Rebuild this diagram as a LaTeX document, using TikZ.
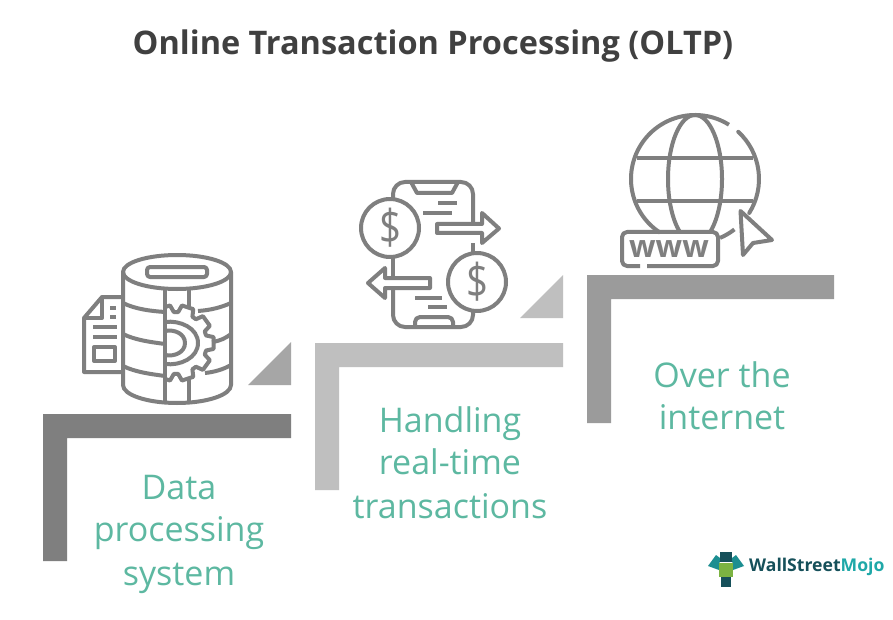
\documentclass[tikz,border=0pt]{standalone}
\usepackage{graphicx}
\usepackage{fontspec}
\setmainfont{Open Sans}
\definecolor{icon}{HTML}{7F7F7F}
\definecolor{titlec}{HTML}{404040}
\definecolor{teal1}{HTML}{5DB8A1}
\definecolor{stepa}{HTML}{7F7F7F}
\definecolor{stepb}{HTML}{BFBFBF}
\definecolor{stepc}{HTML}{9B9B9B}
\definecolor{tria}{HTML}{A6A6A6}
\definecolor{logod}{HTML}{16505A}
\definecolor{logot}{HTML}{1FA8A8}
\definecolor{logog}{HTML}{7CB342}
\tikzset{
  ic/.style={draw=icon,line width=4pt,line join=round,fill=none},
  lab/.style={text=teal1,font=\fontsize{34}{34}\selectfont,inner sep=0pt,anchor=base},
  dollar/.style={text=icon,font=\fontsize{48}{48}\selectfont,inner sep=0pt},
}
\begin{document}
\begin{tikzpicture}[x=1pt,y=-1pt]
\useasboundingbox (0,0) rectangle (893,620);
\fill[white] (0,0) rectangle (893,620);
\node[text=titlec,font=\fontsize{32.5}{33}\selectfont\bfseries,inner sep=0pt] (title) at (433,46) {Online Transaction Processing (OLTP)};
% steps
\fill[stepa] (43,414) -- (291,414) -- (291,438) -- (67,438) -- (67,561) -- (43,561) -- cycle;
\fill[tria] (248,385) -- (291,385) -- (291,342) -- cycle;
\fill[stepb] (315,343) -- (563,343) -- (563,367) -- (339,367) -- (339,490) -- (315,490) -- cycle;
\fill[stepb] (520,318) -- (563,318) -- (563,275) -- cycle;
\fill[stepc] (587,275) -- (834,275) -- (834,299) -- (611,299) -- (611,423) -- (587,423) -- cycle;
% labels
\node[lab] (l1a) at (179,499) {Data};
\node[lab] (l1b) at (179,541) {processing};
\node[lab] (l1c) at (179,585) {system};
\node[lab] (l2a) at (450,432) {Handling};
\node[lab] (l2b) at (450,474) {real-time};
\node[lab] (l2c) at (450,518) {transactions};
\node[lab] (l3a) at (722,387) {Over the};
\node[lab] (l3b) at (722,429) {internet};
% database
\draw[ic] (177,272) ellipse [x radius=54,y radius=17];
\draw[ic,rounded corners=3pt] (147,267) rectangle (207,277);
\draw[ic] (123,272) -- (123,385) arc[start angle=180,end angle=0,x radius=54,y radius=18] -- (231,272);
\draw[ic] (165,288) -- (165,402);
\draw[ic] (189,288) -- (189,307) (189,380) -- (189,402);
\draw[ic] (123,303) .. controls (135,309) and (150,311) .. (165,312);
\draw[ic] (123,334) .. controls (135,340) and (150,342) .. (165,344);
\draw[ic] (123,366) .. controls (135,372) and (150,374) .. (165,376);
\draw[ic] (198,311) .. controls (212,310) and (222,307) .. (231,303);
\draw[ic] (212,342) .. controls (220,341) and (226,338) .. (231,334);
\draw[ic] (205,373) .. controls (215,372) and (224,369) .. (231,365);
\begin{scope}
\clip (166,290) rectangle (225,400);
\begin{scope}[shift={(176,343)}]
\draw[ic] (-117:38)
  \foreach \a in {-108,-72,-36,0,36,72,108}{
    -- (\a-9:38) -- (\a+9:38) -- (\a+14:31) -- (\a+22:31)
  };
\end{scope}
\end{scope}
\draw[ic] (165,322) .. controls (180,320) and (198,328) .. (198,343) .. controls (198,358) and (180,366) .. (165,364);
\draw[ic] (165,331) .. controls (175,329) and (185,334) .. (185,343) .. controls (185,352) and (175,357) .. (165,355);
% document
\draw[ic] (123,297) -- (102,297) -- (84,318) -- (84,372) -- (123,372);
\draw[ic] (102,297) -- (102,318) -- (84,318);
\draw[ic] (93,327) -- (117,327) (93,337) -- (117,337);
\draw[ic] (94,347) rectangle (115,361);
\draw[ic] (110,308) -- (116,308) (110,317) -- (116,317);
% phone
\draw[ic] (393,198) -- (393,194) arc[start angle=180,end angle=270,radius=12] -- (461,182) arc[start angle=-90,end angle=0,radius=12] -- (473,224);
\draw[ic] (473,243) -- (473,252);
\draw[ic] (393,258) -- (393,278);
\draw[ic] (393,288) -- (393,315) arc[start angle=180,end angle=90,radius=12] -- (461,327) arc[start angle=90,end angle=0,radius=12] -- (473,312);
\draw[ic] (411,182) -- (417,193) -- (452,193) -- (458,182);
\draw[ic,rounded corners=5pt] (415,327) -- (415,317) -- (453,317) -- (453,327);
\draw[ic] (390,228) circle [radius=29];
\draw[ic] (477,282) circle [radius=29];
\node[dollar] (d1) at (390,228) {\scalebox{.8}[1]{\$}};
\node[dollar] (d2) at (477,282) {\scalebox{.8}[1]{\$}};
\draw[ic] (482,224) -- (437,224) -- (437,233) -- (482,233) -- (482,243) -- (499,228.5) -- (482,213) -- cycle;
\draw[ic] (385,278) -- (430,278) -- (430,288) -- (385,288) -- (385,298) -- (368,283) -- (385,268) -- cycle;
\draw[ic] (438,203) -- (457,203) (423,213) -- (452,213) (415,298) -- (442,298) (428,307) -- (447,307);
% globe
\draw[ic] (695,179) ++(-58:64) arc[start angle=-58,end angle=-237,radius=64];
\draw[ic,line cap=round] (695,179) ++(-47.5:64) arc[start angle=-47.5,end angle=32,radius=64];
\draw[ic] (695,179) ++(67:64) arc[start angle=67,end angle=52,radius=64];
\begin{scope}
\clip (620,100) rectangle (770,231);
\draw[ic] (695,179) ellipse [x radius=27,y radius=64];
\end{scope}
\draw[ic] (637,158) -- (753,158) (637,201) -- (753,201);
\draw[ic] (640,266) -- (627,266) arc[start angle=90,end angle=180,radius=5] -- (622,237) arc[start angle=180,end angle=270,radius=5] -- (713,232) arc[start angle=-90,end angle=0,radius=5] -- (718,261) arc[start angle=0,end angle=90,radius=5] -- (647,266);
\node[text=icon,font=\fontsize{31}{31}\selectfont\bfseries,inner sep=0pt] (www) at (669,249) {www};
\draw[ic] (740.5,211) -- (772,240) -- (753,243) -- (743,255) -- cycle;
% logo
\node[anchor=west,inner sep=0pt,font=\fontsize{17.6}{18}\selectfont\bfseries,text=logod] (wsm) at (749,567) {WallStreet\textcolor{logot}{Mojo}};
\fill[logod] (720,552) rectangle (732,560);
\fill[logod] (715,559) rectangle (737,562);
\fill[logot!70!logod] (708,566) -- (716,555) -- (720,558) -- (719,570) -- cycle;
\fill[logot!70!logod] (744,566) -- (736,555) -- (732,558) -- (733,570) -- cycle;
\fill[logog] (719,563) rectangle (733,577);
\fill[logod] (721,577) rectangle (731,587);
\end{tikzpicture}
\end{document}
